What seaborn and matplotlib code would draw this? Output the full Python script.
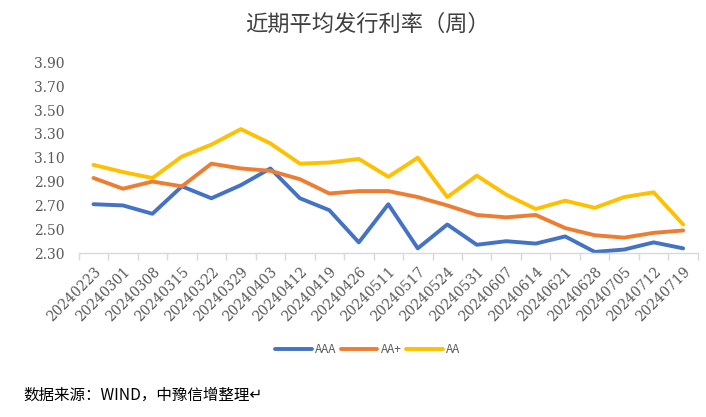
import matplotlib
matplotlib.use("Agg")
import matplotlib.pyplot as plt
import seaborn as sns
import pandas as pd
import numpy as np
from matplotlib.ticker import FixedLocator

dates = ["20240223", "20240301", "20240308", "20240315", "20240322", "20240329",
         "20240403", "20240412", "20240419", "20240426", "20240511", "20240517",
         "20240524", "20240531", "20240607", "20240614", "20240621", "20240628",
         "20240705", "20240712", "20240719"]
aaa = [2.71, 2.70, 2.63, 2.86, 2.76, 2.87, 3.01, 2.76, 2.66, 2.39, 2.71, 2.34,
       2.54, 2.37, 2.40, 2.38, 2.44, 2.31, 2.33, 2.39, 2.34]
aa_plus = [2.93, 2.84, 2.90, 2.86, 3.05, 3.01, 2.99, 2.92, 2.80, 2.82, 2.82, 2.77,
           2.70, 2.62, 2.60, 2.62, 2.51, 2.45, 2.43, 2.47, 2.49]
aa = [3.04, 2.98, 2.93, 3.11, 3.21, 3.34, 3.22, 3.05, 3.06, 3.09, 2.94, 3.10,
      2.77, 2.95, 2.79, 2.67, 2.74, 2.68, 2.77, 2.81, 2.54]
series_names = ["AAA", "AA+", "AA"]
colors = ["#4472C4", "#ED7D31", "#FFC000"]
yticks = [2.30, 2.50, 2.70, 2.90, 3.10, 3.30, 3.50, 3.70, 3.90]
title = "近期平均发行利率（周）"
source = "数据来源：WIND，中豫信增整理↵"

df = pd.DataFrame({
    "date": dates * 3,
    "value": aaa + aa_plus + aa,
    "series": [series_names[0]] * len(dates) + [series_names[1]] * len(dates) + [series_names[2]] * len(dates),
})

sns.set_style("white")
plt.rcParams['font.family'] = ['Noto Sans CJK SC', 'DejaVu Sans']

fig = plt.figure(figsize=(7.06, 4.17), dpi=100)
ax = fig.add_axes([0.1115, 0.393, 0.877, 0.4576])

sns.lineplot(data=df, x="date", y="value", hue="series", hue_order=series_names,
             palette=colors, linewidth=2.8, ax=ax, sort=False, legend=True)

n = len(dates)
ax.set_xlim(-0.5, n - 0.5)
ax.set_ylim(2.30, 3.90)
ax.set_yticks(yticks)
ax.set_yticklabels([f"{v:.2f}" for v in yticks], family="DejaVu Serif", fontsize=10, color="#595959")
ax.set_xticks(range(n))
ax.set_xticklabels(dates, rotation=45, ha="right", rotation_mode="anchor",
                   family="DejaVu Serif", fontsize=10, color="#595959")
ax.xaxis.set_minor_locator(FixedLocator(np.arange(-0.5, n, 1.0)))
ax.tick_params(axis="x", which="major", length=0, pad=8)
ax.tick_params(axis="x", which="minor", length=5, color="#D9D9D9", width=1, bottom=True)
ax.tick_params(axis="y", length=0, pad=10)
ax.set_xlabel("")
ax.set_ylabel("")
for s in ["top", "right", "left"]:
    ax.spines[s].set_visible(False)
ax.spines["bottom"].set_color("#D9D9D9")
ax.spines["bottom"].set_linewidth(1)
ax.grid(False)

handles, labels = ax.get_legend_handles_labels()
ax.legend_.remove()
fig.legend(handles, labels, loc="center", bbox_to_anchor=(0.521, 0.162), ncol=3,
           frameon=False, fontsize=8.5, handlelength=3.1, handletextpad=0.3,
           columnspacing=0.35, labelcolor="#595959")

fig.text(0.521, 0.942, title, ha="center", va="center", fontsize=16, color="#404040")
fig.text(0.033, 0.053, source, ha="left", va="center", fontsize=11.2, color="#000000",
         family=["Noto Sans CJK SC", "DejaVu Sans"])

fig.savefig("out.png", dpi=100)
